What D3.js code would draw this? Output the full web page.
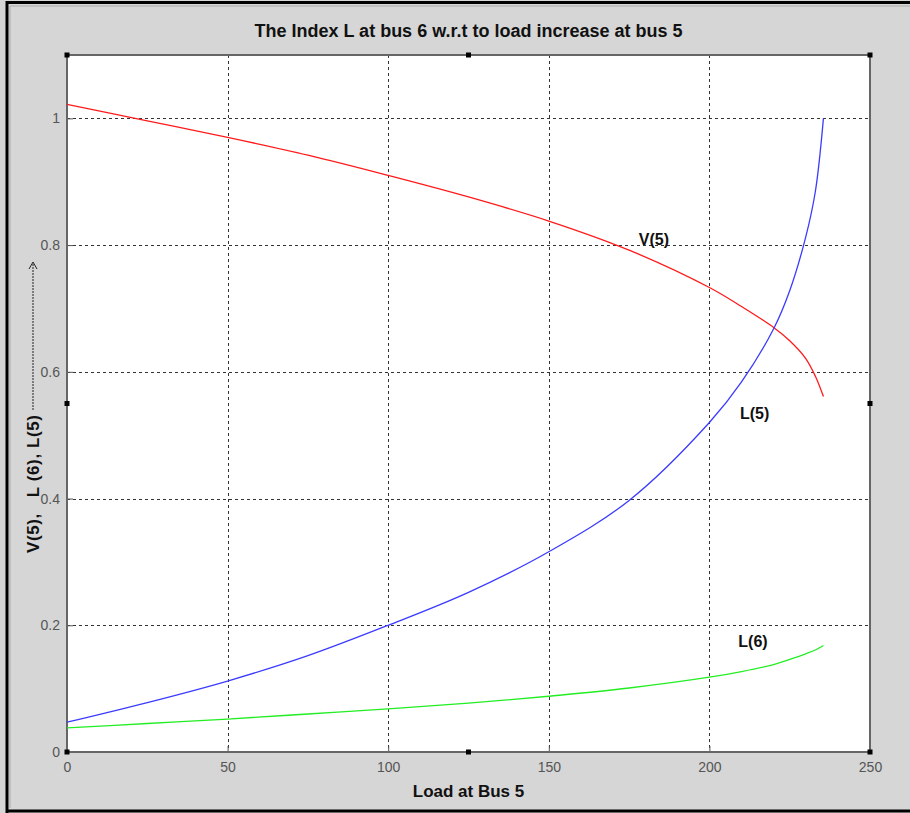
<!DOCTYPE html>
<html>
<head>
<meta charset="utf-8">
<script src="https://cdn.jsdelivr.net/npm/d3@7"></script>
<style>
  body { margin: 0; background: #d6d6d6; }
  svg { display: block; }
  .narrow { font-family: "Liberation Sans Narrow", "Arial Narrow", "Liberation Sans", sans-serif; }
</style>
</head>
<body>
<svg id="chart" width="910" height="813"></svg>
<script>
// values
const loads = [0, 25, 50, 75, 100, 125, 150, 175, 200, 210, 220, 225, 230, 233, 235.5];
const v5 = [1.022, 0.996, 0.970, 0.942, 0.910, 0.876, 0.838, 0.792, 0.733, 0.703, 0.670, 0.649, 0.621, 0.593, 0.561];
const l5 = [0.047, 0.078, 0.112, 0.152, 0.200, 0.252, 0.316, 0.397, 0.520, 0.584, 0.668, 0.728, 0.813, 0.885, 1.0];
const l6 = [0.038, 0.045, 0.052, 0.060, 0.068, 0.077, 0.088, 0.101, 0.118, 0.127, 0.138, 0.146, 0.155, 0.161, 0.168];

const xTicks = [0, 50, 100, 150, 200, 250];
const yTicks = [0, 0.2, 0.4, 0.6, 0.8, 1];

const series = [
  { name: 'V(5)', values: v5, color: '#ff1a1a', lx: 178, ly: 0.80 },
  { name: 'L(5)', values: l5, color: '#3b3bff', lx: 209.5, ly: 0.525 },
  { name: 'L(6)', values: l6, color: '#22ee22', lx: 209, ly: 0.165 }
];

const svg = d3.select('#chart');
const W = 910, H = 813;
const margin = { left: 67, right: 40, top: 55, bottom: 61 };

const x = d3.scaleLinear().domain([0, 250]).range([margin.left, W - margin.right]);
const y = d3.scaleLinear().domain([0, 1.1]).range([H - margin.bottom, margin.top]);

// figure frame
svg.append('rect').attr('x', 0).attr('y', 0).attr('width', W).attr('height', H).attr('fill', '#d6d6d6');
svg.append('path')
  .attr('d', `M 7 ${H} V 2.5 H ${W}`)
  .attr('fill', 'none').attr('stroke', '#000').attr('stroke-width', 3);
svg.append('line')
  .attr('x1', 7).attr('x2', W).attr('y1', 811).attr('y2', 811)
  .attr('stroke', '#000').attr('stroke-width', 3);
svg.append('path')
  .attr('d', `M 10 808 V 6 H ${W}`)
  .attr('fill', 'none').attr('stroke', '#aaa').attr('stroke-width', 1);

// plot background
svg.append('rect')
  .attr('x', x(0)).attr('y', y(1.1))
  .attr('width', x(250) - x(0)).attr('height', y(0) - y(1.1))
  .attr('fill', '#fff');

// grid
const grid = svg.append('g').attr('stroke', '#333').attr('stroke-width', 1).attr('stroke-dasharray', '3,3');
grid.selectAll('.gx').data(xTicks.slice(1, -1)).enter().append('line')
  .attr('x1', d => Math.round(x(d)) + 0.5).attr('x2', d => Math.round(x(d)) + 0.5)
  .attr('y1', y(1.1)).attr('y2', y(0));
grid.selectAll('.gy').data(yTicks.slice(1)).enter().append('line')
  .attr('y1', d => Math.round(y(d)) + 0.5).attr('y2', d => Math.round(y(d)) + 0.5)
  .attr('x1', x(0)).attr('x2', x(250));

// axes
const xAxis = d3.axisBottom(x).tickValues(xTicks).tickSize(-6).tickPadding(10).tickFormat(d3.format('d'));
const yAxis = d3.axisLeft(y).tickValues(yTicks).tickSize(-6).tickPadding(7).tickFormat(d => d === 0 || d === 1 ? d : d.toFixed(1));

const gx = svg.append('g').attr('transform', `translate(0,${y(0)})`).call(xAxis);
const gy = svg.append('g').attr('transform', `translate(${x(0)},0)`).call(yAxis);
[gx, gy].forEach(g => {
  g.select('.domain').remove();
  g.selectAll('.tick line').attr('stroke', '#555');
  g.selectAll('.tick text').attr('class', 'narrow').attr('fill', '#555').style('font-size', '14px');
});

// axes box
svg.append('rect')
  .attr('x', x(0)).attr('y', y(1.1))
  .attr('width', x(250) - x(0)).attr('height', y(0) - y(1.1))
  .attr('fill', 'none').attr('stroke', '#666').attr('stroke-width', 2);

// curves
const line = d3.line().curve(d3.curveCatmullRom);
series.forEach(s => {
  svg.append('path')
    .datum(loads.map((l, i) => [x(l), y(s.values[i])]))
    .attr('d', line)
    .attr('fill', 'none')
    .attr('stroke', s.color)
    .attr('stroke-width', 1.3);
  svg.append('text')
    .attr('class', 'narrow')
    .attr('x', x(s.lx)).attr('y', y(s.ly))
    .attr('font-weight', 'bold').style('font-size', '16px')
    .attr('fill', '#111')
    .text(s.name);
});

// selection handles
const hx = [0, 125, 250], hy = [0, 0.55, 1.1];
const handles = [];
hx.forEach(a => hy.forEach(b => { if (!(a === 125 && b === 0.55)) handles.push([a, b]); }));
svg.selectAll('.handle').data(handles).enter().append('rect')
  .attr('x', d => x(d[0]) - 2.5).attr('y', d => y(d[1]) - 2.5)
  .attr('width', 5).attr('height', 5).attr('fill', '#000');

// title and labels
svg.append('text')
  .attr('class', 'narrow')
  .attr('x', (x(0) + x(250)) / 2).attr('y', 37)
  .attr('text-anchor', 'middle').attr('font-weight', 'bold').style('font-size', '18px')
  .attr('fill', '#111')
  .text('The Index L at bus 6 w.r.t to load increase at bus 5');

svg.append('text')
  .attr('class', 'narrow')
  .attr('x', (x(0) + x(250)) / 2).attr('y', 797)
  .attr('text-anchor', 'middle').attr('font-weight', 'bold').style('font-size', '17px')
  .attr('fill', '#111')
  .text('Load at Bus 5');

const ylab = svg.append('g').attr('transform', 'translate(39,553) rotate(-90)');
ylab.append('text')
  .attr('class', 'narrow')
  .attr('x', 0).attr('y', 0)
  .attr('font-weight', 'bold').style('font-size', '17px')
  .style('letter-spacing', '0.6px')
  .attr('fill', '#111')
  .attr('xml:space', 'preserve')
  .text('V(5),   L (6), L(5)');
ylab.append('line')
  .attr('x1', 143).attr('x2', 290).attr('y1', -6).attr('y2', -6)
  .attr('stroke', '#222').attr('stroke-width', 1).attr('stroke-dasharray', '2,1');
ylab.append('path')
  .attr('d', 'M 284 -10 L 291 -6 L 284 -2')
  .attr('fill', 'none').attr('stroke', '#222').attr('stroke-width', 1);
</script>
</body>
</html>
